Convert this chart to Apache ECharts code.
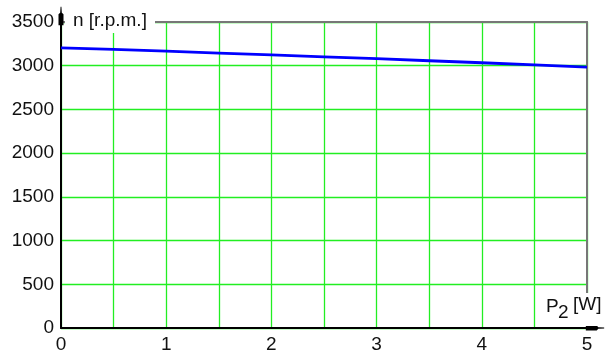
<!DOCTYPE html>
<html><head><meta charset="utf-8">
<script src="https://cdn.jsdelivr.net/npm/echarts@6/dist/echarts.min.js"></script>
<style>html,body{margin:0;padding:0;background:#fff}#c{width:609px;height:358px}</style>
</head><body><div id="c"></div>
<script>
const power = [0, 0.5, 1, 1.5, 2, 2.5, 3, 3.5, 4, 4.5, 5];
const speed = [3205, 3186, 3166, 3145, 3124, 3102, 3080, 3057, 3034, 3010, 2984];
const xTicks = [0, 1, 2, 3, 4, 5];
const yTicks = [0, 500, 1000, 1500, 2000, 2500, 3000, 3500];
const yName = 'n [r.p.m.]';
const xName = ['P', '2', '[W]'];

const green = '#22ee22';
const font = 'Liberation Sans, Arial, sans-serif';
const arrowPath = 'path://M0,22 L0,9 L2,7 L2.5,0 L3.5,0 L4,7 L6,9 L6,22 Z';
const chart = echarts.init(document.getElementById('c'), null, {renderer: 'canvas'});
chart.setOption({
  animation: false,
  backgroundColor: '#fff',
  grid: {left: 61, right: 22, top: 22, bottom: 30, containLabel: false},
  xAxis: [{
    type: 'value', min: 0, max: 5, interval: 0.5, position: 'bottom',
    axisLine: {show: true, onZero: false, lineStyle: {color: '#000', width: 2},
      symbol: ['none', arrowPath], symbolSize: [5, 22], symbolOffset: [0, 8]},
    axisTick: {show: false},
    axisLabel: {color: '#111', fontSize: 19, fontFamily: font, margin: 7,
      formatter: v => (xTicks.indexOf(v) >= 0 ? String(v) : '')},
    splitLine: {show: true, lineStyle: {color: green, width: 1.3}}
  }, {
    type: 'value', min: 0, max: 5, position: 'top',
    axisLine: {show: true, onZero: false, lineStyle: {color: '#777', width: 2}},
    axisTick: {show: false}, axisLabel: {show: false}, splitLine: {show: false}
  }],
  yAxis: [{
    type: 'value', min: 0, max: 3500, interval: 500, position: 'left',
    axisLine: {show: true, onZero: false, lineStyle: {color: '#000', width: 2},
      symbol: ['none', arrowPath], symbolSize: [5, 21], symbolOffset: [0, 6]},
    axisTick: {show: false},
    axisLabel: {color: '#111', fontSize: 19, fontFamily: font, margin: 7,
      formatter: v => (yTicks.indexOf(v) >= 0 ? String(v) : '')},
    splitLine: {show: true, lineStyle: {color: green, width: 1.3}}
  }, {
    type: 'value', min: 0, max: 3500, position: 'right',
    axisLine: {show: true, onZero: false, lineStyle: {color: '#777', width: 2}},
    axisTick: {show: false}, axisLabel: {show: false}, splitLine: {show: false}
  }],
  series: [{
    type: 'line', xAxisIndex: 0, yAxisIndex: 0,
    data: power.map((p, i) => [p, speed[i]]),
    showSymbol: false, symbol: 'none',
    lineStyle: {color: '#0000ff', width: 2.8},
    z: 5
  }],
  graphic: [
    {type: 'rect', z: 100, shape: {x: 65, y: 0, width: 90, height: 33}, style: {fill: '#fff'}},
    {type: 'text', z: 101, x: 73, y: 21, style: {text: yName, fontSize: 19, fontFamily: font, fill: '#111', verticalAlign: 'middle'}},
    {type: 'rect', z: 100, shape: {x: 560, y: 293, width: 49, height: 33}, style: {fill: '#fff'}},
    {type: 'text', z: 101, x: 546, y: 307, style: {text: xName[0], fontSize: 19, fontFamily: font, fill: '#111', verticalAlign: 'middle'}},
    {type: 'text', z: 101, x: 558, y: 313, style: {text: xName[1], fontSize: 19, fontFamily: font, fill: '#111', verticalAlign: 'middle'}},
    {type: 'text', z: 101, x: 573, y: 305, style: {text: xName[2], fontSize: 19, fontFamily: font, fill: '#111', verticalAlign: 'middle'}}
  ]
});
</script></body></html>
